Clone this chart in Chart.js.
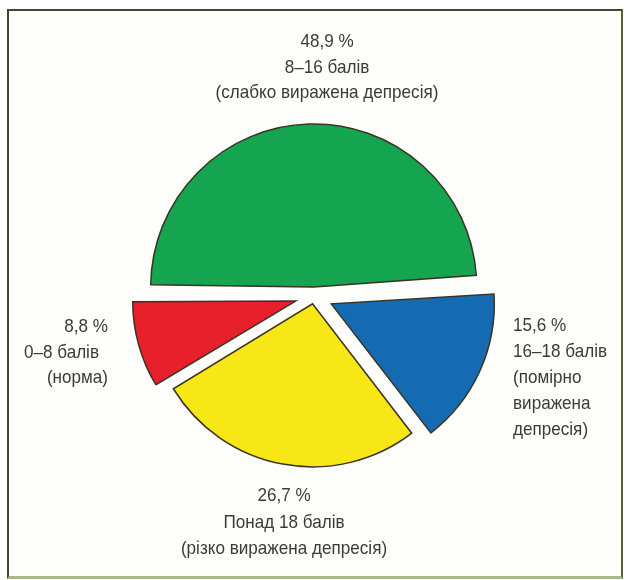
<!DOCTYPE html>
<html lang="uk">
<head>
<meta charset="utf-8">
<title>Рівень депресії</title>
<script src="https://cdn.jsdelivr.net/npm/chart.js@4.4.1/dist/chart.umd.min.js"></script>
<style>
  html, body { margin: 0; padding: 0; background: #ffffff; }
  #wrap { position: relative; width: 629px; height: 580px; overflow: hidden; }
  #frame {
    position: absolute; left: 7px; top: 9px; width: 612px; height: 565px;
    background: #fdfdfb;
    border-left: 2px solid #3e4a2c; border-top: 2px solid #3e4a2c;
    border-right: 2px solid #56623c; border-bottom: 3px solid #a7ba84;
  }
  #chart { position: absolute; left: 0; top: 0; }
</style>
</head>
<body>
<div id="wrap">
  <div id="frame"></div>
  <canvas id="chart" width="629" height="580"></canvas>
</div>
<script>
// Share of patients by depression score group (%)
const categories = ['8–16 балів', '16–18 балів', 'Понад 18 балів', '0–8 балів'];
const values = [48.9, 15.6, 26.7, 8.8];
const descriptions = [
  ['(слабко виражена депресія)'],
  ['(помірно', 'виражена', 'депресія)'],
  ['(різко виражена депресія)'],
  ['(норма)']
];
const colors = ['#15a44f', '#146bb2', '#f7e716', '#e8202b'];
// how far each slice is pulled out of the pie, px
const pullOut = [9, 19, 8, 19];

const PIE_RADIUS = 163;

// Where each group's caption sits, relative to the pie centre
const captionLayout = [
  { dx: 13, dy: -254, lh: 25.5, align: 'center', shift: [0, 0, 0] },
  { dx: 199, dy: 30, lh: 26, align: 'left', shift: [0, 0, 0, 0, 0] },
  { dx: -30, dy: 200, lh: 26.5, align: 'center', shift: [0, 0, 0] },
  { dx: -206, dy: 31, lh: 25.5, align: 'right', shift: [0, -9, 0] }
];

const fmtPct = v => v.toFixed(1).replace('.', ',') + ' %';

// Chart.js moves an arc by offset/4 and also widens it a little;
// keep every exploded slice at the same radius.
const evenRadius = {
  id: 'evenRadius',
  afterDatasetsUpdate(chart) {
    chart.getDatasetMeta(0).data.forEach((arc, i) => {
      const fix = 1 - Math.sin(Math.min(Math.PI, arc.circumference));
      arc.outerRadius = PIE_RADIUS - pullOut[i] * fix;
    });
  }
};

const captions = {
  id: 'captions',
  afterDraw(chart) {
    const ctx = chart.ctx;
    const arcs = chart.getDatasetMeta(0).data;
    if (!arcs.length) return;
    const cx = arcs[0].x, cy = arcs[0].y;
    const sx = 0.9;
    ctx.save();
    ctx.fillStyle = '#3b3b3b';
    ctx.font = '19px "Liberation Sans", Arial, sans-serif';
    ctx.textBaseline = 'middle';
    values.forEach((v, i) => {
      const lay = captionLayout[i];
      const lines = [fmtPct(v), categories[i], ...descriptions[i]];
      ctx.textAlign = lay.align;
      lines.forEach((t, k) => {
        const x = cx + lay.dx + (lay.shift[k] || 0);
        const y = cy + lay.dy + k * lay.lh;
        ctx.save();
        ctx.translate(x, y);
        ctx.scale(sx, 1);
        ctx.fillText(t, 0, 0);
        ctx.restore();
      });
    });
    ctx.restore();
  }
};

new Chart(document.getElementById('chart'), {
  type: 'pie',
  data: {
    labels: categories,
    datasets: [{
      data: values,
      backgroundColor: colors,
      borderColor: '#3b3323',
      borderWidth: 1.5,
      borderJoinStyle: 'miter',
      offset: pullOut.map(d => d * 4)
    }]
  },
  options: {
    responsive: false,
    animation: false,
    rotation: 270.3,
    radius: PIE_RADIUS,
    layout: { padding: { left: 0, right: 1, top: 12, bottom: 0 } },
    plugins: {
      legend: { display: false },
      tooltip: { enabled: false }
    },
    events: []
  },
  plugins: [evenRadius, captions]
});
</script>
</body>
</html>
